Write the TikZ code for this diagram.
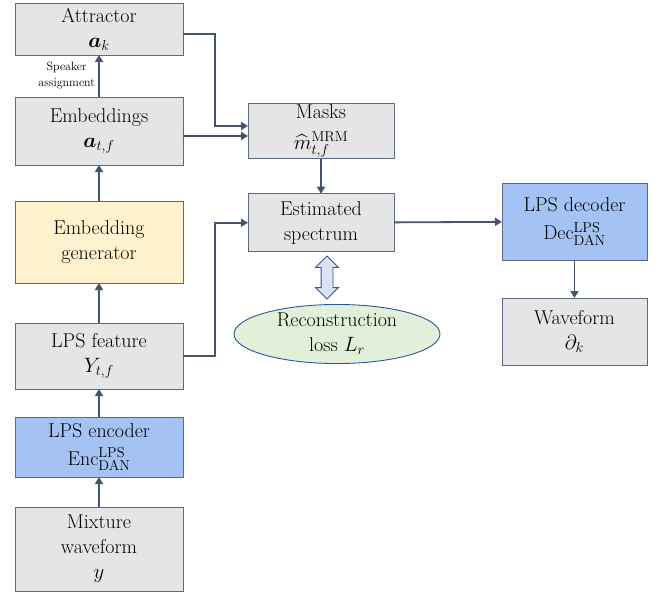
\documentclass[tikz,border=0pt]{standalone}
\usepackage{amsmath}
\usetikzlibrary{arrows.meta,positioning,shapes.geometric,shapes.arrows}

\definecolor{linecol}{HTML}{44546A}
\definecolor{boxline}{HTML}{5B6B80}
\definecolor{boxgray}{HTML}{E5E5E5}
\definecolor{boxblue}{HTML}{A4C2F4}
\definecolor{boxyellow}{HTML}{FFF2CC}
\definecolor{lossgreen}{HTML}{E2F0D9}
\definecolor{lossline}{HTML}{2F5597}
\definecolor{fatfill}{HTML}{DAE3F3}

\begin{document}
\begin{tikzpicture}[x=1pt,y=-1pt,inner sep=1pt,outer sep=0pt,
    font=\fontsize{20}{25}\selectfont,
    block/.style={rectangle,draw=boxline,fill=boxgray,line width=0.9pt,minimum width=168pt,align=center},
    dnn/.style={block,fill=boxblue},
    arr/.style={-{Triangle[length=7pt,width=8pt]},draw=linecol,line width=1.8pt}]
  \useasboundingbox (0,0) rectangle (660,596);
  % left column, bottom to top
  \node[block,minimum height=84pt] (mix) at (99,549) {Mixture\\waveform\\$y$};
  \node[dnn,minimum height=60pt] (enc) [above=30pt of mix] {LPS encoder\\[3pt]Enc$^{\mathrm{LPS}}_{\mathrm{DAN}}$};
  \node[block,minimum height=66pt] (feat) [above=28pt of enc] {LPS feature\\$Y_{t,f}$};
  \node[block,fill=boxyellow,minimum height=82pt] (gen) [above=40pt of feat] {Embedding\\generator};
  \node[block,minimum height=68pt] (emb) [above=36pt of gen] {Embeddings\\$\boldsymbol{a}_{t,f}$};
  \node[block,minimum height=52pt] (attr) [above=42pt of emb] {Attractor\\$\boldsymbol{a}_{k}$};
  % middle and right
  \node[block,minimum width=146pt,minimum height=54pt] (masks) at (321,131) {Masks\\[6pt]$\widehat{m}^{\mathrm{MRM}}_{t,f}$};
  \node[block,minimum width=146pt,minimum height=58pt] (spec) [below=35pt of masks] {Estimated\\spectrum};
  \node[dnn,minimum width=145pt,minimum height=77pt] (dec) at (574.5,221.5) {LPS decoder\\[3pt]Dec$^{\mathrm{LPS}}_{\mathrm{DAN}}$};
  \node[block,minimum width=145pt,minimum height=67pt] (wave) [below=38pt of dec] {Waveform\\$\partial_{k}$};
  \node[ellipse,draw=lossline,fill=lossgreen,line width=0.9pt,minimum width=206pt,minimum height=56pt,inner sep=0pt,align=center] (loss) at (337,334) {Reconstruction\\loss $L_r$};
  \node[double arrow,draw=lossline,fill=fatfill,line width=0.9pt,rotate=90,minimum height=43pt,inner xsep=0pt,inner ysep=5.5pt,double arrow head extend=5.5pt] (fat) at (327,277.5) {};

  \draw[arr] (mix) -- (enc);
  \draw[arr] (enc) -- (feat);
  \draw[arr] (feat) -- (gen);
  \draw[arr] (gen) -- (emb);
  \draw[arr] (emb) -- node[left,align=center,font=\fontsize{12}{16}\selectfont,xshift=-3pt] {Speaker\\assignment} (attr);
  \draw[arr] ([yshift=-5pt]attr.east) -- ++(32,0) |- ([yshift=5pt]masks.west);
  \draw[arr] ([yshift=-5pt]emb.east) -- ([yshift=-5pt]masks.west);
  \draw[arr] (masks) -- (spec);
  \draw[arr] (feat.east) -- ++(32,0) |- (spec.west);
  \draw[arr] (spec) -- (dec);
  \draw[arr] (dec) -- (wave);
\end{tikzpicture}
\end{document}
